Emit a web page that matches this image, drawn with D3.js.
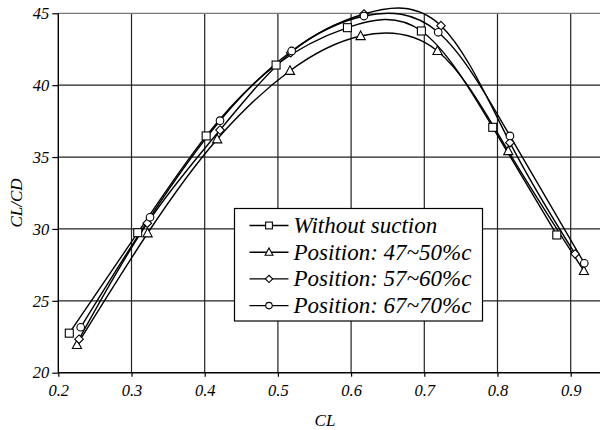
<!DOCTYPE html>
<html>
<head>
<meta charset="utf-8">
<script src="https://cdn.jsdelivr.net/npm/d3@7"></script>
<style>
  html, body { margin: 0; padding: 0; background: #fff; }
  svg { display: block; }
  text { font-family: "Times New Roman", FreeSerif, serif; font-style: italic; fill: #000; }
</style>
</head>
<body>
<svg id="chart" width="600" height="430"></svg>
<script>
// Lift-to-drag ratio against lift coefficient for each suction position
const seriesNames = ["Without suction", "Position: 47~50%c", "Position: 57~60%c", "Position: 67~70%c"];
const seriesMarkers = ["square", "triangle", "diamond", "circle"];

const clNone = [0.215, 0.3085, 0.402, 0.4975, 0.595, 0.696, 0.7935, 0.881];
const ldNone = [22.75, 29.74, 36.47, 41.4, 44.0, 43.77, 37.07, 29.58];

const cl4750 = [0.2255, 0.322, 0.417, 0.5165, 0.613, 0.718, 0.8147, 0.918];
const ld4750 = [21.93, 29.7, 36.24, 41.0, 43.42, 42.38, 35.42, 27.08];

const cl5760 = [0.2283, 0.3216, 0.4209, 0.5175, 0.6176, 0.7228, 0.817, 0.906];
const ld5760 = [22.33, 30.4, 36.88, 42.26, 44.95, 44.14, 36.0, 28.26];

const cl6770 = [0.2306, 0.3253, 0.4209, 0.5188, 0.6176, 0.719, 0.817, 0.9186];
const ld6770 = [23.16, 30.81, 37.53, 42.38, 44.81, 43.68, 36.47, 27.61];

const xTicks = [0.2, 0.3, 0.4, 0.5, 0.6, 0.7, 0.8, 0.9];
const yTicks = [20, 25, 30, 35, 40, 45];

const xs = [clNone, cl4750, cl5760, cl6770];
const ys = [ldNone, ld4750, ld5760, ld6770];
const series = seriesNames.map((name, i) => ({
  name, marker: seriesMarkers[i],
  values: xs[i].map((x, j) => ({ x, y: ys[i][j] }))
}));

const svg = d3.select("#chart");
const m = { left: 58.3, top: 13.3 };
const W = 549, H = 359.4;

const x = d3.scaleLinear().domain([0.2, 0.95]).range([0, W]);
const y = d3.scaleLinear().domain([20, 45]).range([H, 0]);

const g = svg.append("g").attr("transform", `translate(${m.left},${m.top})`);

// grid
g.append("g").selectAll("line").data(xTicks.slice(1)).join("line")
  .attr("x1", d => x(d)).attr("x2", d => x(d)).attr("y1", 0).attr("y2", H)
  .attr("stroke", "#222").attr("stroke-width", 1.2);
g.append("g").selectAll("line").data(yTicks.slice(1, -1)).join("line")
  .attr("x1", 0).attr("x2", W).attr("y1", d => y(d)).attr("y2", d => y(d))
  .attr("stroke", "#222").attr("stroke-width", 1.2);
// top frame line
g.append("line").attr("x1", 0).attr("x2", W).attr("y1", 0).attr("y2", 0)
  .attr("stroke", "#777").attr("stroke-width", 1.2);

// axes
const xAxis = g.append("g").attr("transform", `translate(0,${H})`)
  .call(d3.axisBottom(x).tickValues(xTicks).tickFormat(d3.format(".1f")).tickSize(4).tickPadding(8));
const yAxis = g.append("g")
  .call(d3.axisLeft(y).tickValues(yTicks).tickFormat(d3.format("d")).tickSize(6).tickPadding(3));
[xAxis, yAxis].forEach(a => {
  a.attr("font-family", null);
  a.select(".domain").attr("stroke", "#000").attr("stroke-width", 1.4);
  a.selectAll(".tick line").attr("stroke", "#000").attr("stroke-width", 1.2);
  a.selectAll(".tick text").style("font-size", "16.5px").attr("fill", "#000");
});
xAxis.select(".domain").attr("d", `M0,0H${W}`);
yAxis.select(".domain").attr("d", `M0,${H}V0`);

// curves
const line = d3.line().x(d => x(d.x)).y(d => y(d.y)).curve(d3.curveNatural);
g.append("g").selectAll("path").data(series).join("path")
  .attr("d", d => line(d.values))
  .attr("fill", "none").attr("stroke", "#000").attr("stroke-width", 1.4);

// markers
function drawMarker(sel, type, k) {
  if (type === "square") {
    sel.append("rect").attr("x", -4 * k).attr("y", -4 * k).attr("width", 8 * k).attr("height", 8 * k);
  } else if (type === "triangle") {
    sel.append("path").attr("d", `M0,${-5 * k}L${4.6 * k},${3.6 * k}L${-4.6 * k},${3.6 * k}Z`);
  } else if (type === "diamond") {
    sel.append("path").attr("d", `M0,${-4.3 * k}L${4.3 * k},0L0,${4.3 * k}L${-4.3 * k},0Z`);
  } else {
    sel.append("circle").attr("r", 3.8 * k);
  }
  sel.selectAll("*").attr("fill", "#fff").attr("stroke", "#000").attr("stroke-width", 1.1);
}
series.forEach(s => {
  g.append("g").selectAll("g").data(s.values).join("g")
    .attr("transform", d => `translate(${x(d.x)},${y(d.y)})`)
    .each(function () { drawMarker(d3.select(this), s.marker, 1); });
});

// legend
const lg = svg.append("g").attr("transform", "translate(234.5,208.5)");
lg.append("rect").attr("width", 248).attr("height", 112.5)
  .attr("fill", "#fff").attr("stroke", "#000").attr("stroke-width", 1.2);
series.forEach((s, i) => {
  const row = lg.append("g").attr("transform", `translate(0,${17 + i * 26.7})`);
  row.append("line").attr("x1", 15).attr("x2", 54).attr("y1", 0).attr("y2", 0)
    .attr("stroke", "#000").attr("stroke-width", 1.4);
  const mk = row.append("g").attr("transform", "translate(34.5,0)");
  drawMarker(mk, s.marker, 0.85);
  row.append("text").attr("x", 59).attr("y", 7.5).style("font-size", "23px").text(s.name);
});

// axis titles
svg.append("text").attr("x", 325).attr("y", 426).attr("text-anchor", "middle")
  .style("font-size", "17px").text("CL");
svg.append("text").attr("transform", "translate(22,203) rotate(-90)")
  .attr("text-anchor", "middle").style("font-size", "17px").text("CL/CD");
</script>
</body>
</html>
